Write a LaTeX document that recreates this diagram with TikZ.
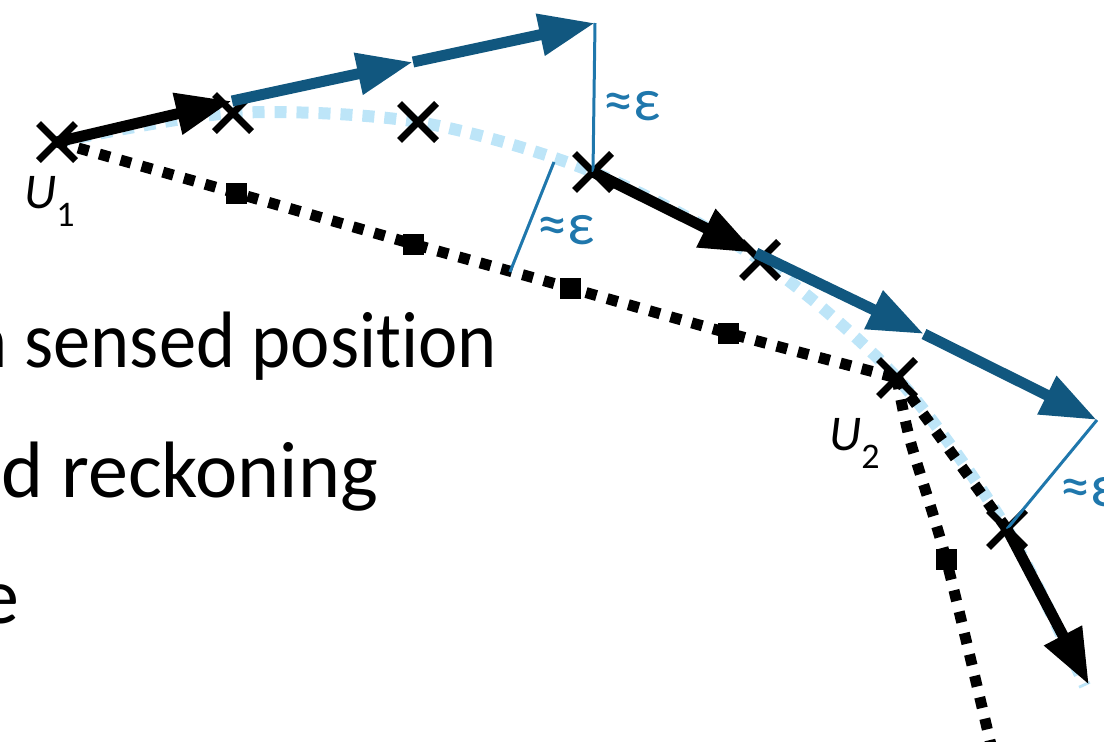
\documentclass[tikz,border=0pt]{standalone}
\usepackage{fontspec}
\setmainfont{Carlito}[Ligatures=NoCommon]
\usepackage{xcolor}
\definecolor{cTrue}{HTML}{BDE5F8}
\definecolor{cFix}{HTML}{11577F}
\definecolor{cEps}{HTML}{1F77AC}
\usepackage{tikz}
\usetikzlibrary{arrows.meta,shapes.misc,backgrounds}
\tikzset{
  node-cross/.style={cross out,draw=black,line width=7pt,minimum size=30pt,inner sep=0pt},
  node-square/.style={fill=black,minimum size=21pt,inner sep=0pt},
  node-text/.style={inner sep=0pt,anchor=base east,font=\fontsize{80}{96}\selectfont},
  node-u/.style={inner sep=0pt,anchor=base west,font=\fontsize{50}{54}\selectfont},
  node-eps/.style={inner sep=0pt,text=cEps,font=\fontsize{60}{66}\selectfont},
  arrow-dr/.style={-{Triangle[length=56pt,width=40pt]},line width=11pt,draw=black},
  arrow-fix/.style={-{Triangle[length=56pt,width=40pt]},line width=11pt,draw=cFix},
  line-eps/.style={line width=3pt,draw=cEps},
  % true route light blue, dead reckoning black dots
  path-true/.style={line width=12pt,draw=cTrue,dash pattern=on 12pt off 10pt},
  path-dr/.style={line width=11pt,draw=black,dash pattern=on 11pt off 11pt},
}

\begin{document}
\begin{tikzpicture}[x=1pt,y=-1pt]
  \path[use as bounding box,clip] (0,0) rectangle (1104,742);

  \node[node-text] (txt-sensed) at (497,367) {\scalebox{0.93}[1]{n sensed position}};
  \node[node-text] (txt-dead)   at (378,497) {d reckoning};
  \node[node-text] (txt-e)      at (20,623)  {e};

  \node[node-cross] (x1) at (57,142) {};
  \node[node-cross] (x2) at (233,113) {};
  \node[node-cross] (x3) at (418,122) {};
  \node[node-cross] (x4) at (593,172) {};
  \node[node-cross] (x5) at (760,260) {};
  \node[node-cross] (x6) at (897,378) {};
  \node[node-cross] (x7) at (1007,529) {};

  \node[node-square] (s1) at (236,193) {};
  \node[node-square] (s2) at (413,244) {};
  \node[node-square] (s3) at (570,288) {};
  \node[node-square] (s4) at (728,333) {};
  \node[node-square] (s5) at (946,559) {};

  \coordinate (true-end) at (1085,686);
  \coordinate (dr-mid)   at (910,440);
  \coordinate (dr-end)   at (991,745);
  \coordinate (c1) at (232,101);
  \coordinate (c2) at (413,62);
  \coordinate (c3) at (595,23);
  \coordinate (c4) at (756,253);
  \coordinate (c5) at (924,334);
  \coordinate (c6) at (1097,420);
  \coordinate (c7) at (1089,685);
  \coordinate (e-top) at (554,162);
  \coordinate (e-bot) at (510,272);

  \begin{scope}[on background layer]
    \draw[path-true] plot[smooth] coordinates {(x1.center) (x2.center) (x3.center)
      (x4.center) (x5.center) (x6.center) (x7.center) (true-end)};
    \draw[path-dr] plot[smooth] coordinates {(x1.center) (s1.center) (s2.center)
      (s3.center) (s4.center) (x6.center)};
    \draw[path-dr] plot[smooth] coordinates {(x6.center) (dr-mid) (s5.center) (dr-end)};
    \draw[path-dr] (x6.center) -- (x7.center);
  \end{scope}

  \draw[line-eps] (c3) -- (x4.center);
  \draw[line-eps] (c6) -- (x7.center);
  \draw[line-eps] (e-top) -- (e-bot);

  \draw[arrow-dr] (x1.center) -- (c1);
  \draw[arrow-fix] (c1) -- (c2);
  \draw[arrow-fix] (c2) -- (c3);
  \draw[arrow-dr] (x4.center) -- (c4);
  \draw[arrow-fix] (c4) -- (c5);
  \draw[arrow-fix] (c5) -- (c6);
  \draw[arrow-dr] (x7.center) -- (c7);

  \node[node-eps] (eps-a) at (632,106) {≈ε};
  \node[node-eps] (eps-b) at (566,230) {≈ε};
  \node[node-eps,anchor=west] (eps-c) at (1060,492) {≈ε};

  \node[node-u] (lbl-u1) at (24,208) {\itshape U\raisebox{-0.36em}{\fontsize{36}{36}\selectfont\upshape 1}};
  \node[node-u] (lbl-u2) at (829,450) {\itshape U\raisebox{-0.36em}{\fontsize{36}{36}\selectfont\upshape 2}};
\end{tikzpicture}
\end{document}
